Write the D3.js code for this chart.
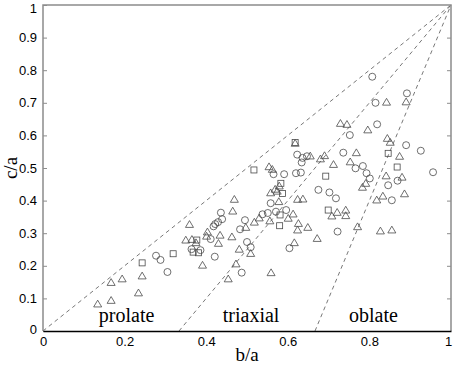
<!DOCTYPE html>
<html>
<head>
<meta charset="utf-8">
<script src="https://cdn.jsdelivr.net/npm/d3@7"></script>
<style>
  body { margin: 0; background: #fff; }
  svg { display: block; }
</style>
</head>
<body>
<div id="chart_div"></div>
<script>

// [b/a, c/a]
const circle_points = [
    [0.277, 0.231], [0.288, 0.218], [0.305, 0.181], [0.364, 0.251], [0.386, 0.248],
    [0.623, 0.541], [0.636, 0.531], [0.634, 0.517], [0.647, 0.536], [0.565, 0.481],
    [0.591, 0.481], [0.620, 0.484], [0.632, 0.486], [0.675, 0.433], [0.558, 0.392],
    [0.596, 0.371], [0.571, 0.366], [0.551, 0.362], [0.538, 0.358], [0.604, 0.254],
    [0.495, 0.340], [0.483, 0.312], [0.436, 0.363], [0.439, 0.343], [0.429, 0.334],
    [0.418, 0.321], [0.422, 0.328], [0.411, 0.282], [0.500, 0.273], [0.509, 0.257],
    [0.421, 0.228], [0.487, 0.179], [0.807, 0.780], [0.892, 0.729], [0.815, 0.700],
    [0.752, 0.601], [0.819, 0.634], [0.890, 0.570], [0.926, 0.553], [0.956, 0.487],
    [0.869, 0.461], [0.846, 0.447], [0.855, 0.401], [0.722, 0.305], [0.702, 0.425],
    [0.718, 0.407], [0.736, 0.547], [0.766, 0.499], [0.784, 0.506], [0.793, 0.484],
    [0.801, 0.468]
];

const triangle_points = [
    [0.134, 0.083], [0.167, 0.094], [0.167, 0.149], [0.194, 0.160], [0.234, 0.117],
    [0.243, 0.169], [0.359, 0.327], [0.350, 0.279], [0.365, 0.281], [0.375, 0.271],
    [0.403, 0.304], [0.401, 0.291], [0.391, 0.202], [0.554, 0.504], [0.562, 0.496],
    [0.579, 0.445], [0.569, 0.435], [0.558, 0.424], [0.574, 0.429], [0.469, 0.404],
    [0.465, 0.368], [0.578, 0.397], [0.624, 0.404], [0.637, 0.405], [0.556, 0.338],
    [0.530, 0.347], [0.518, 0.334], [0.601, 0.346], [0.613, 0.359], [0.626, 0.330],
    [0.624, 0.310], [0.649, 0.318], [0.672, 0.284], [0.616, 0.271], [0.497, 0.318],
    [0.463, 0.289], [0.434, 0.294], [0.430, 0.269], [0.481, 0.251], [0.509, 0.238],
    [0.473, 0.206], [0.559, 0.179], [0.454, 0.160], [0.655, 0.537], [0.618, 0.576],
    [0.842, 0.702], [0.890, 0.703], [0.729, 0.637], [0.745, 0.634], [0.796, 0.617],
    [0.844, 0.591], [0.851, 0.579], [0.874, 0.536], [0.841, 0.476], [0.880, 0.472],
    [0.886, 0.421], [0.833, 0.414], [0.818, 0.402], [0.855, 0.310], [0.827, 0.307],
    [0.771, 0.320], [0.708, 0.353], [0.721, 0.364], [0.742, 0.371], [0.742, 0.354],
    [0.712, 0.511], [0.768, 0.547], [0.753, 0.519], [0.791, 0.453], [0.783, 0.441],
    [0.690, 0.538], [0.680, 0.528]
];

const square_points = [
    [0.243, 0.209], [0.319, 0.237], [0.377, 0.279], [0.368, 0.242], [0.381, 0.240],
    [0.517, 0.494], [0.583, 0.453], [0.587, 0.422], [0.581, 0.356], [0.580, 0.323],
    [0.618, 0.578], [0.846, 0.545], [0.868, 0.503], [0.699, 0.371], [0.693, 0.475]
];

// dividing lines, each from (x0, 0) to (1, 1)
const divider_starts = [0, 1 / 3, 2 / 3];

const region_labels = [
    {text: 'prolate', x: 0.205},
    {text: 'triaxial', x: 0.51},
    {text: 'oblate', x: 0.81}
];

const tick_values = [0, 0.1, 0.2, 0.3, 0.4, 0.5, 0.6, 0.7, 0.8, 0.9, 1];
const x_tick_values = [0, 0.2, 0.4, 0.6, 0.8, 1];

const width = 453, height = 365;
const margin = {left: 43, right: 2, top: 5, bottom: 34};

const svg = d3.select('#chart_div').append('svg')
    .attr('width', width)
    .attr('height', height);

const x = d3.scaleLinear().domain([0, 1]).range([margin.left, width - margin.right]);
const y = d3.scaleLinear().domain([0, 1]).range([height - margin.bottom, margin.top]);

// dashed region lines
divider_starts.forEach(function (x0) {
    svg.append('line')
        .attr('x1', x(x0)).attr('y1', y(0))
        .attr('x2', x(1)).attr('y2', y(1))
        .style('stroke', '#555')
        .style('stroke-width', 0.8)
        .style('stroke-dasharray', '4,3.5');
});

const mark_color = '#4a4a4a';

svg.append('g').selectAll('circle')
    .data(circle_points).enter().append('circle')
    .attr('cx', d => x(d[0]))
    .attr('cy', d => y(d[1]))
    .attr('r', 3.5)
    .style('fill', 'none')
    .style('stroke', mark_color)
    .style('stroke-width', 0.8);

svg.append('g').selectAll('path')
    .data(triangle_points).enter().append('path')
    .attr('d', 'M0,-3.8L4,3L-4,3Z')
    .attr('transform', d => 'translate(' + x(d[0]) + ',' + y(d[1]) + ')')
    .style('fill', 'none')
    .style('stroke', mark_color)
    .style('stroke-width', 0.8);

svg.append('g').selectAll('rect')
    .data(square_points).enter().append('rect')
    .attr('x', d => x(d[0]) - 3)
    .attr('y', d => y(d[1]) - 3)
    .attr('width', 6)
    .attr('height', 6)
    .style('fill', 'none')
    .style('stroke', mark_color)
    .style('stroke-width', 0.8);

// region names
region_labels.forEach(function (lab) {
    svg.append('text')
        .attr('x', x(lab.x))
        .attr('y', y(0) - 9)
        .style('text-anchor', 'middle')
        .style('font-family', '"Liberation Serif", "Times New Roman", serif')
        .style('font-size', 20 + 'px')
        .style('fill', '#000')
        .text(lab.text);
});

// frame: gray top/left/right, black bottom
svg.append('path')
    .attr('d', 'M' + x(0) + ',' + y(0) + 'V' + y(1) + 'H' + x(1) + 'V' + y(0))
    .style('fill', 'none')
    .style('stroke', '#8c8c8c')
    .style('stroke-width', 1.5);

const y_axis = svg.append('g')
    .attr('transform', 'translate(' + x(0) + ',0)')
    .call(d3.axisLeft(y).tickValues(tick_values).tickSizeInner(-4).tickSizeOuter(0).tickPadding(6)
        .tickFormat(d => d === 0 || d === 1 ? d3.format('d')(d) : d3.format('.1f')(d)));
y_axis.select('.domain').remove();
y_axis.selectAll('line').style('stroke', '#8c8c8c');
// keep the top "1" inside the window
y_axis.selectAll('.tick text').filter(d => d === 1).attr('dy', '0.55em');
y_axis.selectAll('.tick text').filter(d => d === 0).attr('dy', '0.2em');

const y_axis_right = svg.append('g')
    .attr('transform', 'translate(' + x(1) + ',0)')
    .call(d3.axisRight(y).tickValues(tick_values.slice(1, -1)).tickSizeInner(-4).tickSizeOuter(0).tickFormat(''));
y_axis_right.select('.domain').remove();
y_axis_right.selectAll('line').style('stroke', '#8c8c8c');

const x_axis = svg.append('g')
    .attr('transform', 'translate(0,' + y(0) + ')')
    .call(d3.axisBottom(x).tickValues(x_tick_values).tickSize(0).tickPadding(6)
        .tickFormat(d => d === 0 || d === 1 ? d3.format('d')(d) : d3.format('.1f')(d)));
x_axis.select('.domain')
    .style('stroke', '#000')
    .style('stroke-width', 1.5);
x_axis.selectAll('.tick text').filter(d => d === 1).style('text-anchor', 'end').attr('dx', '0.05em');

svg.selectAll('.tick text')
    .style('font-family', '"Liberation Sans", Arial, sans-serif')
    .style('font-size', 13 + 'px')
    .style('fill', '#000');

// axis titles
svg.append('text')
    .attr('x', x(0.5))
    .attr('y', 361)
    .style('text-anchor', 'middle')
    .style('font-family', '"Liberation Serif", "Times New Roman", serif')
    .style('font-size', 19 + 'px')
    .text('b/a');

svg.append('text')
    .attr('transform', 'translate(17,' + y(0.5) + ') rotate(-90)')
    .style('text-anchor', 'middle')
    .style('font-family', '"Liberation Serif", "Times New Roman", serif')
    .style('font-size', 19 + 'px')
    .text('c/a');

</script>
</body>
</html>
